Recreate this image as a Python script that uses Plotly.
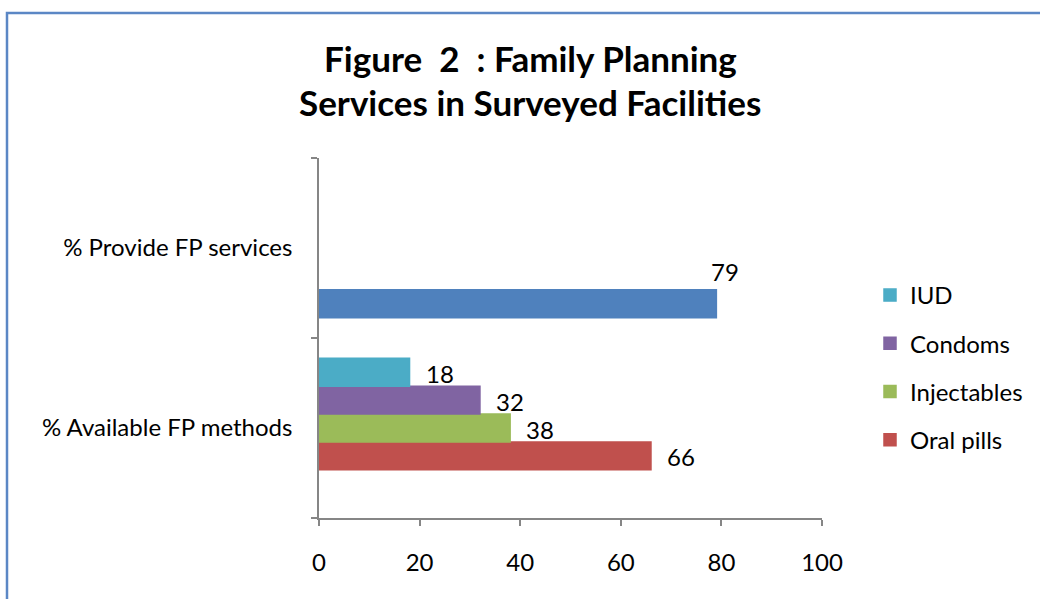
import plotly.graph_objects as go

categories = ["% Available FP methods", "% Provide FP services"]
series_names = ["Provide FP services", "Oral pills", "Injectables", "Condoms", "IUD"]
series_values = [
    [None, 79],
    [66, None],
    [38, None],
    [32, None],
    [18, None],
]
series_colors = ["#4F81BD", "#C0504D", "#9BBB59", "#8064A2", "#4BACC6"]
show_in_legend = [False, True, True, True, True]
legend_ranks = [5, 4, 3, 2, 1]
x_ticks = [0, 20, 40, 60, 80, 100]

FONT = "Lato"
FS = 24
W, H = 1040, 599
ML, MR, MT, MB = 319, 218, 158, 81
BARGAP = 0.225

fig = go.Figure()
n = len(series_names)
bw = (1 - BARGAP) / n
annotations = []
for k, (name, vals, col, sl, rk) in enumerate(zip(series_names, series_values, series_colors,
                                                  show_in_legend, legend_ranks)):
    fig.add_trace(go.Bar(
        name=name, y=categories, x=vals, orientation="h",
        marker=dict(color=col, line=dict(width=1.5, color=col)),
        showlegend=sl, legendgroup=name, legendrank=rk,
    ))
    for ci, v in enumerate(vals):
        if v is None:
            continue
        ypos = ci - (1 - BARGAP) / 2 + bw * (k + 0.5)
        if k == 0:
            xs, ys = 9, 32
        else:
            xs, ys = 30, -1
        annotations.append(dict(
            x=v, y=ypos, xref="x", yref="y", text=str(v), showarrow=False,
            xanchor="center", yanchor="middle", xshift=xs, yshift=ys,
            font=dict(family=FONT, size=FS, color="#000000"),
        ))

pw = W - ML - MR
ph = H - MT - MB
def px_to_paper_x(p):
    return (p - ML) / pw
def px_to_paper_y(p):
    return 1 - (p - MT) / ph

# title lines
annotations.append(dict(text="<b>Figure  2  : Family Planning</b>", xref="paper", yref="paper",
                        x=px_to_paper_x(530), y=px_to_paper_y(58), xanchor="center", yanchor="middle",
                        showarrow=False, font=dict(family=FONT, size=35, color="#000000")))
annotations.append(dict(text="<b>Services in Surveyed Facilities</b>", xref="paper", yref="paper",
                        x=px_to_paper_x(530), y=px_to_paper_y(102), xanchor="center", yanchor="middle",
                        showarrow=False, font=dict(family=FONT, size=35, color="#000000")))

fig.update_layout(
    width=W, height=H,
    margin=dict(l=ML, r=MR, t=MT, b=MB),
    paper_bgcolor="white", plot_bgcolor="white",
    barmode="group", bargap=BARGAP, bargroupgap=0,
    font=dict(family=FONT, size=FS, color="#000000"),
    annotations=annotations,
    legend=dict(
        x=px_to_paper_x(870), y=px_to_paper_y(273), xanchor="left", yanchor="top",
        traceorder="grouped", tracegroupgap=14,
        font=dict(family=FONT, size=FS, color="#000000"),
        bgcolor="rgba(0,0,0,0)",
    ),
    shapes=[dict(type="rect", xref="paper", yref="paper",
                 x0=px_to_paper_x(7), x1=px_to_paper_x(1060),
                 y0=px_to_paper_y(620), y1=px_to_paper_y(13),
                 line=dict(color="#5B87C5", width=2.5), fillcolor="rgba(0,0,0,0)", layer="below")],
)
fig.update_xaxes(
    range=[0, 100], tickvals=x_ticks, showgrid=False, zeroline=False,
    showline=True, linecolor="#868686", linewidth=1.5,
    ticks="outside", ticklen=6, tickcolor="#868686", tickwidth=1.5,
    ticklabelstandoff=16,
    tickfont=dict(family=FONT, size=FS, color="#000000"),
)
fig.update_yaxes(
    showgrid=False, zeroline=False, showline=True, linecolor="#868686", linewidth=1.5,
    ticks="outside", ticklen=6, tickcolor="#868686", tickwidth=1.5, tickson="boundaries",
    ticklabelstandoff=20,
    tickfont=dict(family=FONT, size=FS, color="#000000"),
)

fig.write_html("out.html", config={"displayModeBar": False})
with open("out.html", "r", encoding="utf-8") as f:
    html = f.read()
html = html.replace("<body>", "<body style=\"margin:0;overflow:hidden\">", 1)
with open("out.html", "w", encoding="utf-8") as f:
    f.write(html)
